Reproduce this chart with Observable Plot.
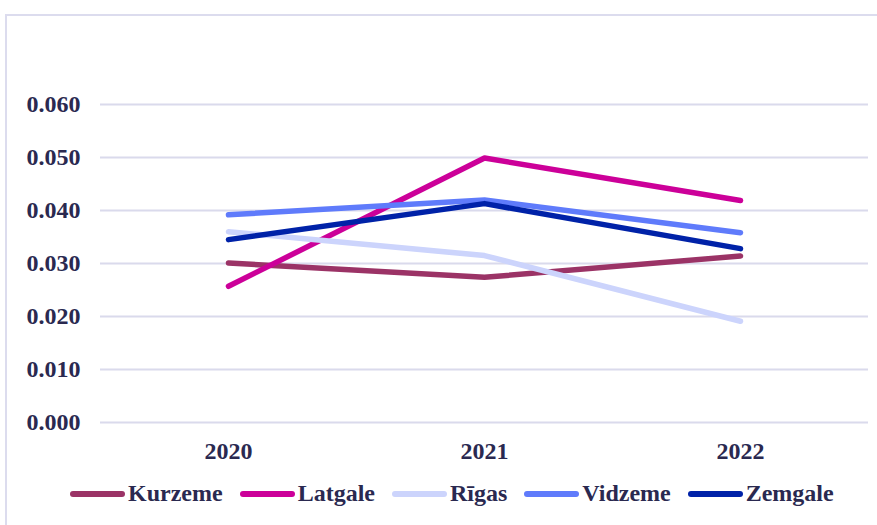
<!DOCTYPE html>
<html>
<head>
<meta charset="utf-8">
<script src="https://cdn.jsdelivr.net/npm/d3@7"></script>
<script src="https://cdn.jsdelivr.net/npm/@observablehq/plot@0.6"></script>
<style>
  html, body { margin: 0; padding: 0; background: #ffffff; overflow: hidden; }
  #wrap { position: relative; width: 877px; height: 525px; }
  #frame { position: absolute; left: 5px; top: 14px; width: 900px; height: 600px;
           border-top: 2px solid #dcdcee; border-left: 2px solid #dcdcee; box-sizing: border-box; }
  #chart { position: absolute; left: 0; top: 0; }
  #legend { position: absolute; left: 70px; top: 480px; display: flex; align-items: center; gap: 17px;
            font-family: "Liberation Serif", "Times New Roman", serif; font-weight: bold; font-size: 24px;
            color: #2a2950; white-space: nowrap; }
  .item { display: flex; align-items: center; }
  .sw { display: inline-block; width: 55px; height: 6px; border-radius: 3px; margin-right: 3px; }
  #chart svg text { font-family: "Liberation Serif", "Times New Roman", serif; font-weight: bold; font-size: 24px; }
</style>
</head>
<body>
<div id="wrap">
  <div id="frame"></div>
  <div id="chart"></div>
  <div id="legend"></div>
</div>
<script>
const years = ["2020", "2021", "2022"];
const regions = ["Kurzeme", "Latgale", "Rīgas", "Vidzeme", "Zemgale"];
const kurzeme = [0.0301, 0.0274, 0.0314];
const latgale = [0.0257, 0.0499, 0.0419];
const rigas   = [0.0360, 0.0315, 0.0191];
const vidzeme = [0.0392, 0.0420, 0.0358];
const zemgale = [0.0345, 0.0413, 0.0328];
const colors = ["#9b3366", "#cc0099", "#ccd4fc", "#5f7bfb", "#0022a8"];
const yTicks = [0, 0.01, 0.02, 0.03, 0.04, 0.05, 0.06];

const series = [kurzeme, latgale, rigas, vidzeme, zemgale];
const data = regions.flatMap((r, i) => years.map((y, j) => ({region: r, year: y, value: series[i][j]})));

const chart = Plot.plot({
  width: 877,
  height: 470,
  marginTop: 104,
  marginBottom: 48,
  marginLeft: 100,
  marginRight: 9,
  style: {
    fontWeight: "bold",
    color: "#2a2950",
    background: "transparent",
    overflow: "visible"
  },
  x: {type: "point", domain: years, padding: 0.5},
  y: {domain: [0, 0.06]},
  color: {domain: regions, range: colors},
  marks: [
    Plot.ruleY(yTicks, {stroke: "#dadaec", strokeWidth: 2}),
    Plot.axisY({ticks: yTicks, tickSize: 0, tickPadding: 20, tickFormat: d => d.toFixed(3), label: null}),
    Plot.axisX({tickSize: 0, tickPadding: 19, label: null}),
    Plot.line(data, {x: "year", y: "value", z: "region", stroke: "region",
      strokeWidth: 5.5, strokeLinecap: "round", strokeLinejoin: "round"})
  ]
});
document.getElementById("chart").appendChild(chart);

const legend = document.getElementById("legend");
regions.forEach((r, i) => {
  const item = document.createElement("div");
  item.className = "item";
  const sw = document.createElement("span");
  sw.className = "sw";
  sw.style.background = colors[i];
  const t = document.createElement("span");
  t.textContent = r;
  item.appendChild(sw);
  item.appendChild(t);
  legend.appendChild(item);
});
</script>
</body>
</html>
